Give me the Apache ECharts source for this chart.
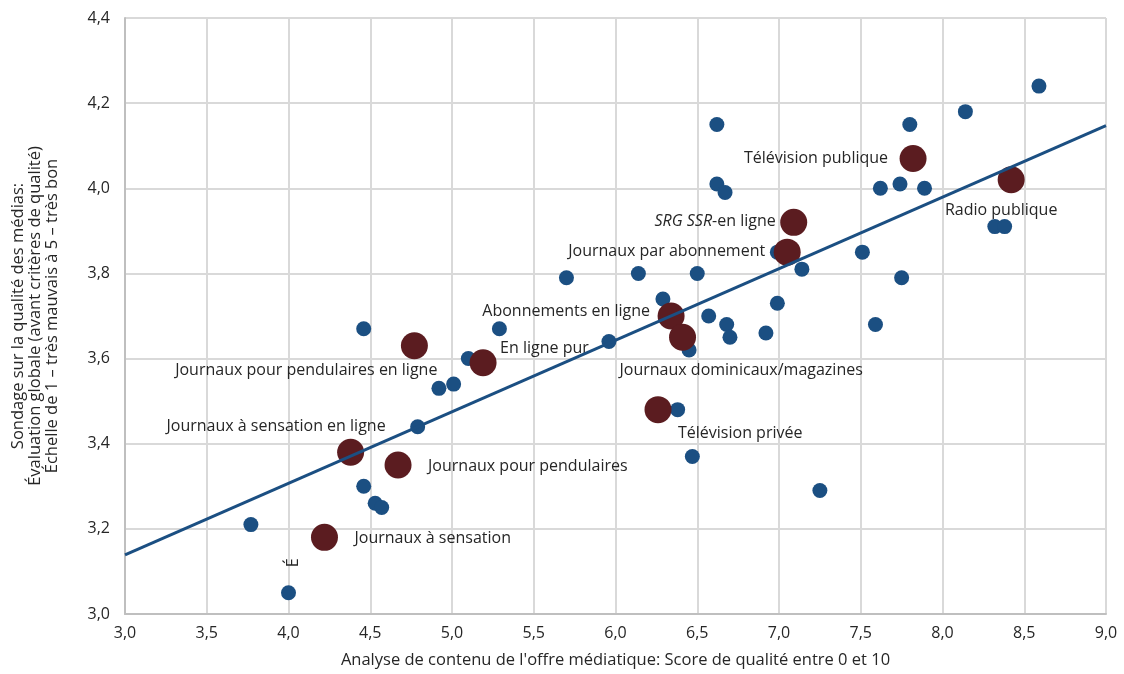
<!DOCTYPE html>
<html><head><meta charset="utf-8">
<script src="https://cdn.jsdelivr.net/npm/echarts@6/dist/echarts.min.js"></script>
<style>html,body{margin:0;padding:0;background:#fff}#c{width:1124px;height:674px}</style>
</head><body><div id="c"></div>
<script>
// ---- data ----
const xAxisTitle = "Analyse de contenu de l'offre médiatique: Score de qualité entre 0 et 10";
const yAxisTitle = "Sondage sur la qualité des médias:\nÉvaluation globale (avant critères de qualité)\nÉchelle de 1 – très mauvais à 5 – très bon";

const blueX = [3.77, 4.00, 4.46, 4.53, 4.57, 4.79, 4.92, 5.01, 5.10, 4.46, 5.29, 5.70, 5.96, 6.14, 6.29, 6.50, 6.57, 6.68, 6.70, 6.45, 6.38, 6.47, 6.62, 6.62, 6.67, 6.92, 6.99, 6.99, 7.14, 7.25, 7.51, 7.59, 7.62, 7.74, 7.75, 7.80, 7.89, 8.14, 8.32, 8.38, 8.59];
const blueY = [3.21, 3.05, 3.30, 3.26, 3.25, 3.44, 3.53, 3.54, 3.60, 3.67, 3.67, 3.79, 3.64, 3.80, 3.74, 3.80, 3.70, 3.68, 3.65, 3.62, 3.48, 3.37, 4.15, 4.01, 3.99, 3.66, 3.73, 3.85, 3.81, 3.29, 3.85, 3.68, 4.00, 4.01, 3.79, 4.15, 4.00, 4.18, 3.91, 3.91, 4.24];
const blueNames = ["", "É", "", "", "", "", "", "", "", "", "", "", "", "", "", "", "", "", "", "", "", "", "", "", "", "", "", "", "", "", "", "", "", "", "", "", "", "", "", "", ""];

const redNames = ["Journaux à sensation", "Journaux à sensation en ligne", "Journaux pour pendulaires", "Journaux pour pendulaires en ligne", "En ligne pur", "Télévision privée", "Abonnements en ligne", "Journaux dominicaux/magazines", "Journaux par abonnement", "SRG SSR-en ligne", "Télévision publique", "Radio publique"];
const redX = [4.22, 4.38, 4.67, 4.77, 5.19, 6.26, 6.34, 6.41, 7.05, 7.09, 7.82, 8.42];
const redY = [3.18, 3.38, 3.35, 3.63, 3.59, 3.48, 3.70, 3.65, 3.85, 3.92, 4.07, 4.02];

const trendX = [3.0, 9.0];
const trendY = [3.139, 4.147];

// ---- label placement (style, not data) ----
const redLabelPlace = {
  "Journaux à sensation": {align: 'left', off: [30, 1]},
  "Journaux à sensation en ligne": {align: 'right', off: [35, -26]},
  "Journaux pour pendulaires": {align: 'left', off: [30, 1]},
  "Journaux pour pendulaires en ligne": {align: 'right', off: [23, 25]},
  "En ligne pur": {align: 'left', off: [17, -14]},
  "Télévision privée": {align: 'left', off: [20, 24]},
  "Abonnements en ligne": {align: 'right', off: [-21, -5]},
  "Journaux dominicaux/magazines": {align: 'left', off: [-63, 33]},
  "Journaux par abonnement": {align: 'right', off: [-22, -1]},
  "SRG SSR-en ligne": {align: 'right', off: [-18, -1]},
  "Télévision publique": {align: 'right', off: [-25, 0]},
  "Radio publique": {align: 'center', off: [-10, 31]}
};
const italicPrefix = {"SRG SSR-en ligne": "SRG SSR"};

const FONT = "'Open Sans', sans-serif";
const TXT = '#262626';
const BLUE = '#1b4f82';
const RED = '#5b1c20';
const LBL = 16;

const blueData = blueX.map((x, i) => {
  const d = {value: [x, blueY[i]], name: blueNames[i]};
  if (blueNames[i]) {
    d.label = {show: true, position: 'inside', align: 'center', verticalAlign: 'middle', rotate: 90, offset: [30, 5],
      formatter: '{b}', color: TXT, fontSize: LBL, fontFamily: FONT};
  }
  return d;
});

const redData = redX.map((x, i) => {
  const n = redNames[i];
  const p = redLabelPlace[n];
  let txt = n;
  if (italicPrefix[n]) txt = '{i|' + italicPrefix[n] + '}' + n.slice(italicPrefix[n].length);
  return {
    value: [x, redY[i]], name: n,
    label: {show: true, position: 'inside', align: p.align, verticalAlign: 'middle', offset: p.off,
      formatter: txt, color: TXT, fontSize: LBL, fontFamily: FONT,
      rich: {i: {fontStyle: 'italic', color: TXT, fontSize: LBL, fontFamily: FONT}}}
  };
});

const fmt = v => v.toFixed(1).replace('.', ',');

const chart = echarts.init(document.getElementById('c'), null, {renderer: 'canvas'});
chart.setOption({
  animation: false,
  backgroundColor: '#fff',
  textStyle: {fontFamily: FONT},
  grid: {left: 125, right: 18, top: 18, bottom: 59, containLabel: false},
  xAxis: {
    type: 'value', min: 3, max: 9, interval: 0.5,
    name: xAxisTitle, nameLocation: 'middle', nameGap: 38,
    nameTextStyle: {color: TXT, fontSize: 16.5, fontFamily: FONT},
    axisLine: {show: true, lineStyle: {color: '#bfbfbf', width: 2}},
    axisTick: {show: false},
    axisLabel: {formatter: fmt, color: TXT, fontSize: 16, fontFamily: FONT, margin: 11},
    splitLine: {show: true, lineStyle: {color: '#d9d9d9', width: 2}}
  },
  yAxis: {
    type: 'value', min: 3.0, max: 4.4, interval: 0.2,
    name: yAxisTitle, nameLocation: 'middle', nameGap: 64, nameRotate: 90,
    nameTextStyle: {color: TXT, fontSize: 16.5, fontFamily: FONT, lineHeight: 17, align: 'center'},
    axisLine: {show: true, lineStyle: {color: '#bfbfbf', width: 2}},
    axisTick: {show: false},
    axisLabel: {formatter: fmt, color: TXT, fontSize: 16, fontFamily: FONT, margin: 15},
    splitLine: {show: true, lineStyle: {color: '#d9d9d9', width: 2}}
  },
  series: [
    {type: 'scatter', data: blueData, symbolSize: 15, itemStyle: {color: BLUE, opacity: 1}, z: 2,
      emphasis: {disabled: true}},
    {type: 'scatter', data: redData, symbolSize: 27, itemStyle: {color: RED, opacity: 1}, z: 3,
      emphasis: {disabled: true}},
    {type: 'line', data: trendX.map((x, i) => [x, trendY[i]]), symbol: 'none', z: 4,
      lineStyle: {color: BLUE, width: 3}, emphasis: {disabled: true}}
  ]
});
</script>
</body></html>
